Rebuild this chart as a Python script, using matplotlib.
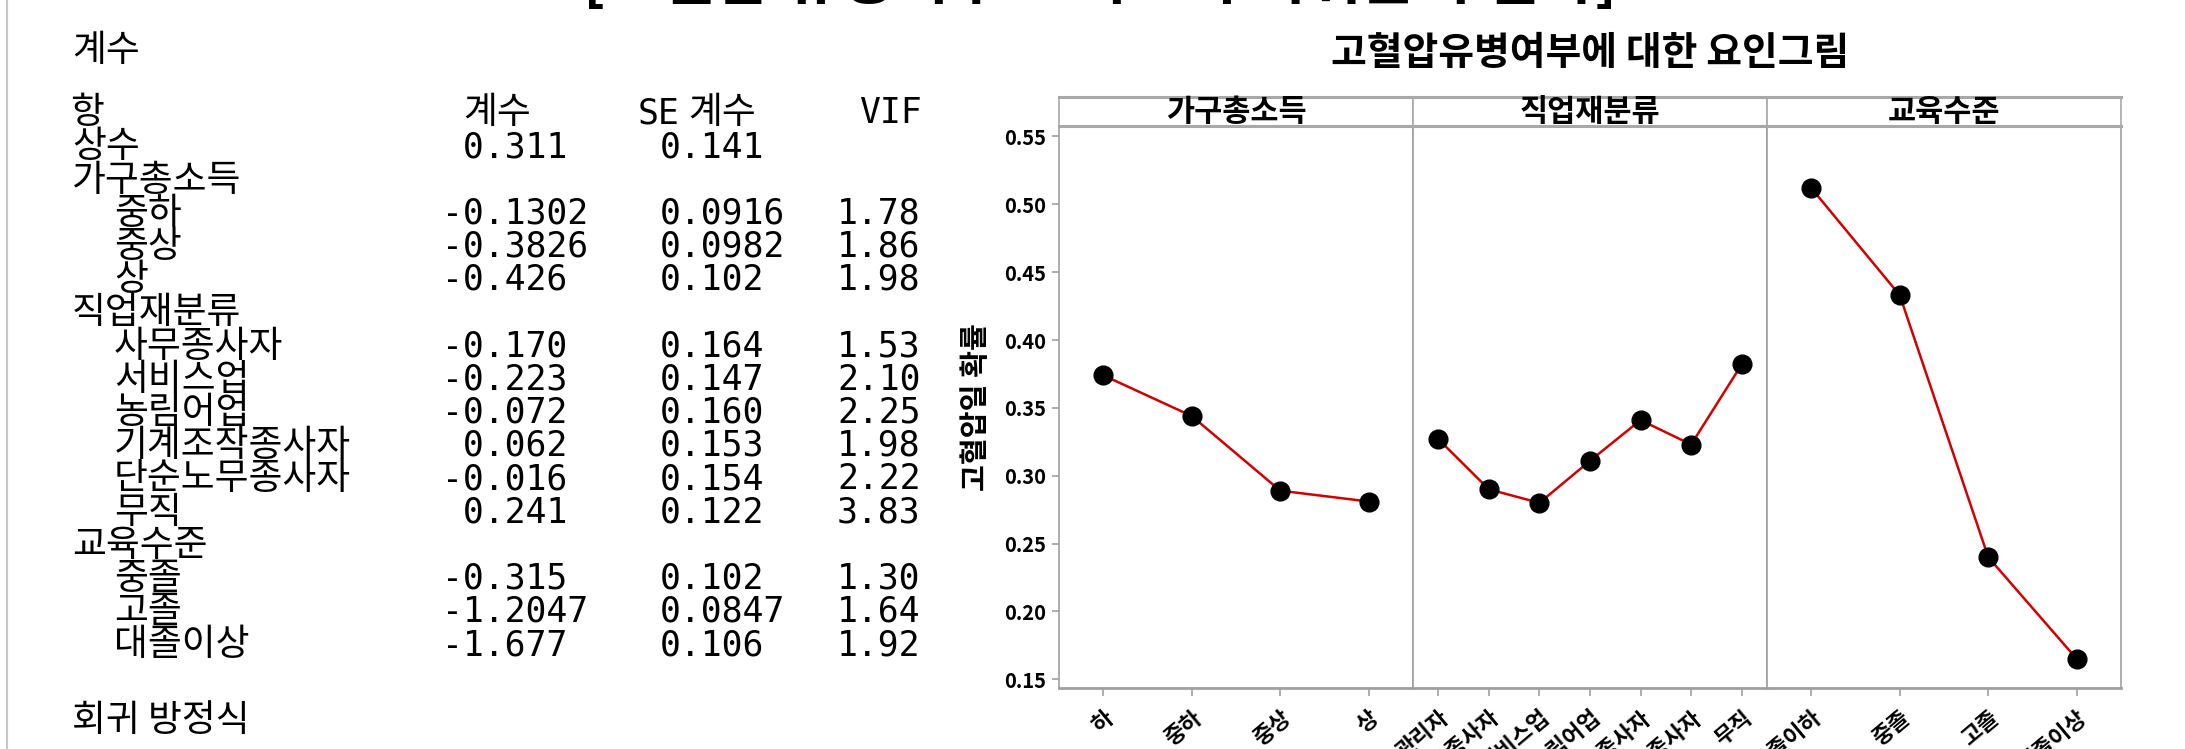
import matplotlib
matplotlib.use('Agg')
import matplotlib.pyplot as plt
from matplotlib.lines import Line2D

plt.rcParams['font.family'] = ['Noto Sans CJK KR', 'DejaVu Sans']

W, H = 2185, 749

# 계수 표 (Minitab 세션 출력)
terms = ['상수', '가구총소득', '중하', '중상', '상', '직업재분류', '사무종사자', '서비스업',
         '농림어업', '기계조작종사자', '단순노무종사자', '무직', '교육수준', '중졸', '고졸', '대졸이상']
term_level = [0, 0, 1, 1, 1, 0, 1, 1, 1, 1, 1, 1, 0, 1, 1, 1]
coef = ['0.311', '', '-0.1302', '-0.3826', '-0.426', '', '-0.170', '-0.223', '-0.072',
        '0.062', '-0.016', '0.241', '', '-0.315', '-1.2047', '-1.677']
se_coef = ['0.141', '', '0.0916', '0.0982', '0.102', '', '0.164', '0.147', '0.160',
           '0.153', '0.154', '0.122', '', '0.102', '0.0847', '0.106']
vif = ['', '', '1.78', '1.86', '1.98', '', '1.53', '2.10', '2.25', '1.98', '2.22', '3.83',
       '', '1.30', '1.64', '1.92']

# 요인그림 데이터
factors = ['가구총소득', '직업재분류', '교육수준']
income_levels = ['하', '중하', '중상', '상']
income_prob = [0.374, 0.344, 0.289, 0.281]
job_levels = ['관리자', '사무종사자', '서비스업', '농림어업', '기계조작종사자', '단순노무종사자', '무직']
job_prob = [0.327, 0.290, 0.280, 0.311, 0.341, 0.323, 0.382]
edu_levels = ['초졸이하', '중졸', '고졸', '대졸이상']
edu_prob = [0.512, 0.433, 0.240, 0.165]
yticks = [0.15, 0.20, 0.25, 0.30, 0.35, 0.40, 0.45, 0.50, 0.55]


def fx(x):
    return x / W


def fy(y):
    return 1 - y / H


fig = plt.figure(figsize=(W / 100, H / 100), dpi=100)
fig.patch.set_facecolor('white')

# 왼쪽 테두리
fig.add_artist(Line2D([fx(7), fx(7)], [0, 1], color='#c8c8c8', lw=1.5))

# 잘린 상단 제목 (아랫부분만 보임)
fig.text(fx(1100), fy(12), '[고혈압 유병여부 로지스틱 회귀분석 결과]', ha='center', va='bottom',
         fontsize=43, fontweight='bold', color='black')

# 세션 텍스트
mono = dict(family=['DejaVu Sans Mono', 'Noto Sans CJK KR'], fontsize=25, va='center', color='black')
hang = dict(family=['Noto Sans CJK KR', 'DejaVu Sans Mono'], fontsize=26.5, va='center', color='black')
fig.text(fx(72), fy(51), '계수', **hang)
fig.text(fx(70), fy(113), '항', **hang)
fig.text(fx(463), fy(113), '계수', **hang)
fig.text(fx(638), fy(113), 'SE', **mono)
fig.text(fx(688), fy(113), '계수', **hang)
fig.text(fx(859), fy(113), 'VIF', **mono)
for i, t in enumerate(terms):
    y = fy(147 + 33.2 * i)
    fig.text(fx(72 + 42 * term_level[i]), y, t, **hang)
    if coef[i]:
        c = coef[i] if coef[i].startswith('-') else ' ' + coef[i]
        fig.text(fx(442), y, c, **mono)
    if se_coef[i]:
        fig.text(fx(660), y, se_coef[i], **mono)
    if vif[i]:
        fig.text(fx(837), y, vif[i], **mono)
fig.text(fx(72), fy(721), '회귀 방정식', **hang)

# 요인그림
left, right = 1059, 2121
strip_top, strip_bot, bottom = 97, 126, 688
pw = (right - left) / 3
gray = '#a0a0a0'
series = [(income_levels, income_prob), (job_levels, job_prob), (edu_levels, edu_prob)]

for i, (levels, prob) in enumerate(series):
    ax = fig.add_axes([fx(left + i * pw), fy(bottom), pw / W, (bottom - strip_bot) / H])
    xs = list(range(1, len(levels) + 1))
    ax.plot(xs, prob, color='#d40000', lw=1.8, zorder=2)
    ax.plot(xs, prob, 'o', color='black', ms=13.5, zorder=3)
    ax.set_xlim(0.5, len(levels) + 0.5)
    ax.set_ylim(0.1436, 0.5577)
    ax.set_xticks(xs)
    ax.set_xticklabels(levels, rotation=40, ha='right', rotation_mode='anchor',
                       fontsize=16, fontweight='bold')
    ax.tick_params(axis='x', length=6, width=1.2, color=gray, pad=7)
    for s in ax.spines.values():
        s.set_color(gray)
        s.set_linewidth(1.2)
    ax.spines['bottom'].set_linewidth(2)
    if i == 0:
        ax.set_yticks(yticks)
        ax.set_yticklabels([f'{v:.2f}' for v in yticks], fontsize=14.5, fontweight='bold')
        ax.tick_params(axis='y', length=5, width=1.2, color=gray, pad=4)
        ax.set_ylabel('고혈압일 확률', fontsize=21, fontweight='bold', labelpad=10)
    else:
        ax.set_yticks(yticks)
        ax.tick_params(axis='y', left=False, labelleft=False)

    sax = fig.add_axes([fx(left + i * pw), fy(strip_bot), pw / W, (strip_bot - strip_top) / H])
    sax.set_xticks([])
    sax.set_yticks([])
    for s in sax.spines.values():
        s.set_color('#a8a8a8')
        s.set_linewidth(1.2)
    sax.spines['top'].set_linewidth(2.2)
    sax.spines['bottom'].set_linewidth(2.2)
    sax.text(0.5, 0.5, factors[i], transform=sax.transAxes, ha='center', va='center',
             fontsize=22, fontweight='bold')

fig.text(fx((left + right) / 2), fy(54), '고혈압유병여부에 대한 요인그림', ha='center', va='center',
         fontsize=28, fontweight='bold')

fig.savefig('out.png', dpi=100, facecolor='white')
